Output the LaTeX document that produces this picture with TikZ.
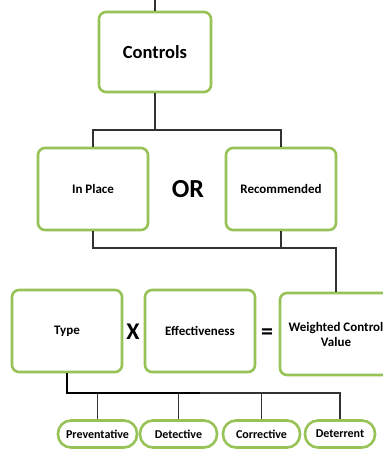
\documentclass[tikz,border=0pt]{standalone}
\usepackage{fontspec}
\setmainfont{Carlito}
\definecolor{boxgreen}{RGB}{150,194,86}
\definecolor{linegray}{RGB}{50,50,50}
\begin{document}
\begin{tikzpicture}[x=1pt,y=-1pt,
  box/.style={draw=boxgreen, line width=2.6pt, rounded corners=7pt, fill=white,
    minimum width=110pt, minimum height=82pt, inner sep=2pt, align=center,
    font=\bfseries\fontsize{13}{15}\selectfont},
  pill/.style={draw=boxgreen, line width=2.6pt, rounded corners=13pt, fill=white,
    minimum height=27pt, inner sep=2pt, font=\bfseries\fontsize{12}{14}\selectfont},
  conn/.style={draw=linegray, line width=1.2pt},
  op/.style={font=\bfseries\fontsize{26}{28}\selectfont, inner sep=0pt}]
\useasboundingbox (0,0) rectangle (383,450);
\clip (0,0) rectangle (383,450);
% nodes
\node[box, minimum width=112pt, minimum height=80pt, font=\bfseries\fontsize{18.5}{20}\selectfont] (controls) at (155,52) {Controls};
\node[box] (inplace) at (93,189) {In Place};
\node[box] (recommended) at (281,189) {Recommended};
\node[op] (or) at (188,189) {OR};
\node[box] (type) at (67,331) {Type};
\node[box] (effect) at (200,331) {Effectiveness};
\node[box, minimum width=112pt] (weighted) at (336,334) {Weighted Control\\Value};
\node[op, font=\bfseries\fontsize{24}{26}\selectfont] (times) at (133,332) {X};
\node[op, font=\bfseries\fontsize{24}{26}\selectfont] (eq) at (267,334) {=};
\node[pill, minimum width=79pt] (prev) at (97.5,434) {Preventative};
\node[pill, minimum width=77pt] (det) at (178.5,434) {Detective};
\node[pill, minimum width=77pt] (corr) at (261.5,434) {Corrective};
\node[pill, minimum width=70pt] (deter) at (340,434) {Deterrent};
% coordinates
\coordinate (top) at (155,0);
\coordinate (bar) at (155,130);
\coordinate (low) at (187,248);
\coordinate (tbar) at (200,393);
% connectors
\draw[conn] (top) -- (controls.north);
\draw[conn] (controls.south) -- (bar);
\draw[conn] (inplace.north) |- (bar) -| (recommended.north);
\draw[conn] (inplace.south) |- (low) -| (recommended.south);
\draw[conn] (recommended.south |- low) -| (weighted.north);
\draw[conn, line width=2pt, draw=black] (type.south) |- (tbar);
\draw[conn] (tbar) -| (deter.north);
\draw[conn] (prev.north) -- (prev.north |- tbar);
\draw[conn] (det.north) -- (det.north |- tbar);
\draw[conn] (corr.north) -- (corr.north |- tbar);
\end{tikzpicture}
\end{document}
